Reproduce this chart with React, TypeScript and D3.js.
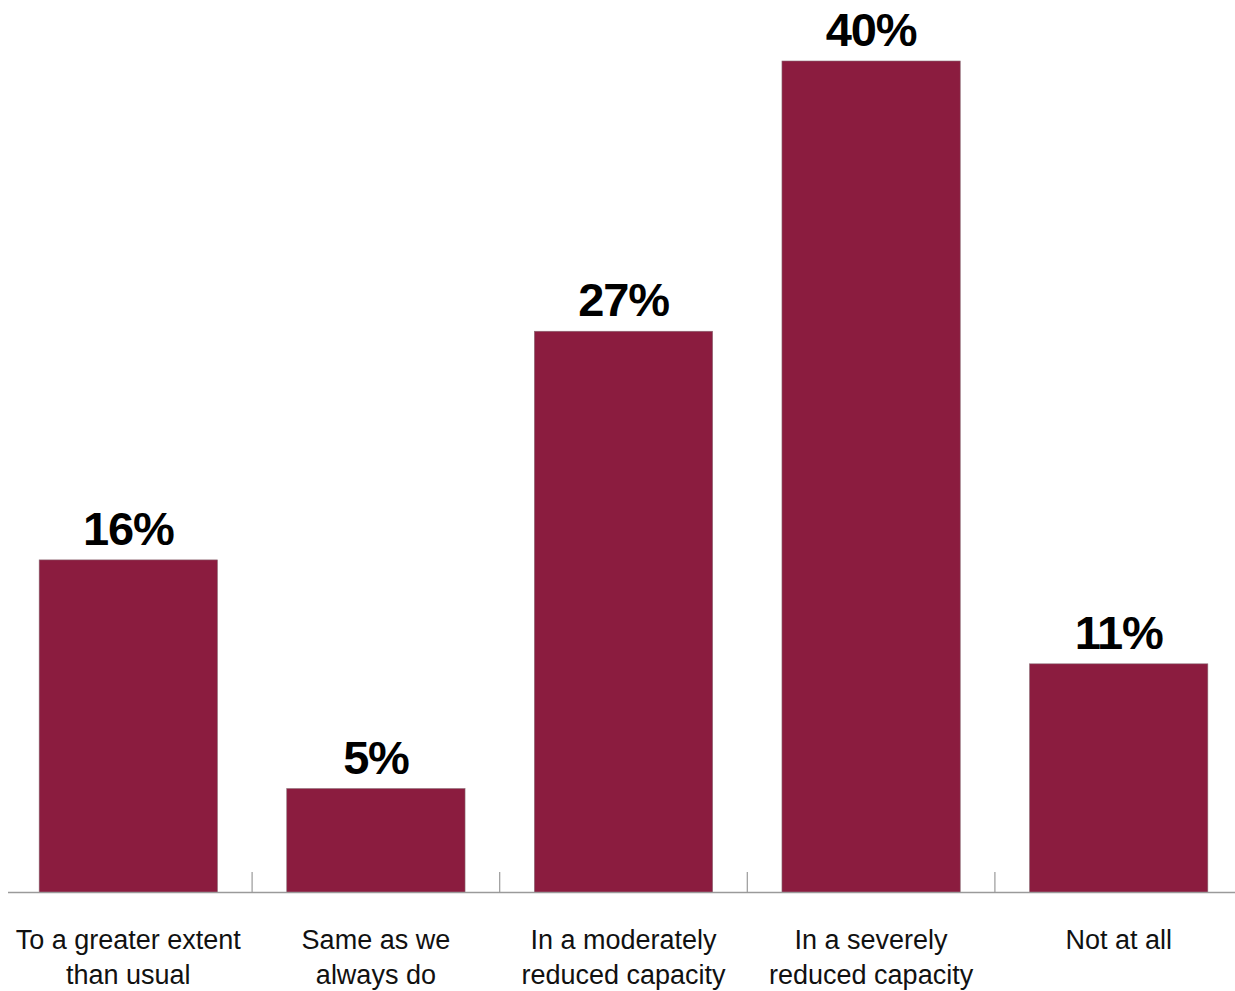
import React from "react";
import * as d3 from "d3";

const categories: string[][] = [
  ["To a greater extent", "than usual"],
  ["Same as we", "always do"],
  ["In a moderately", "reduced capacity"],
  ["In a severely", "reduced capacity"],
  ["Not at all"],
];
const values: number[] = [16, 5, 27, 40, 11];
const valueLabels: string[] = ["16%", "5%", "27%", "40%", "11%"];

const W = 1235;
const H = 991;
const baseY = 892.5;
const barColor = "#8B1C3F";

export default function App() {
  const idx = categories.map((_, i) => String(i));
  const x = d3.scaleBand<string>().domain(idx).range([4.5, 1242.5]).paddingInner(0.28).paddingOuter(0.14);
  const y = d3.scaleLinear().domain([0, 40]).range([baseY, 61]);
  const step = x.step();
  const tickXs = idx.slice(1).map((d) => (x(d) as number) - (step - x.bandwidth()) / 2);

  return (
    <div style={{ position: "absolute", left: 0, top: 0, width: W, height: H, overflow: "hidden" }}>
      <svg width={W} height={H} style={{ display: "block", fontFamily: "'Liberation Sans', Arial, Helvetica, sans-serif" }}>
        <rect width={W} height={H} fill="#fff" />
        {values.map((v, i) => (
          <rect
            key={"b" + i}
            x={x(String(i))}
            y={y(v)}
            width={x.bandwidth()}
            height={baseY - y(v)}
            fill={barColor}
            stroke="#8a6a74"
            strokeWidth={0.6}
          />
        ))}
        <line x1={8} x2={1235} y1={baseY} y2={baseY} stroke="#9a9a9a" strokeWidth={1.5} />
        {tickXs.map((tx, i) => (
          <line key={"t" + i} x1={tx} x2={tx} y1={872} y2={baseY} stroke="#9a9a9a" strokeWidth={1.2} />
        ))}
        {values.map((v, i) => (
          <text
            key={"v" + i}
            x={(x(String(i)) as number) + x.bandwidth() / 2}
            y={y(v) - 15}
            textAnchor="middle"
            fontSize={47}
            fontWeight="bold"
            letterSpacing={-1.2}
            fill="#000"
          >
            {valueLabels[i]}
          </text>
        ))}
        {categories.map((lines, i) => (
          <text
            key={"c" + i}
            x={(x(String(i)) as number) + x.bandwidth() / 2}
            textAnchor="middle"
            fontSize={27}
            fill="#111"
          >
            {lines.map((l, j) => (
              <tspan key={j} x={(x(String(i)) as number) + x.bandwidth() / 2} y={949 + j * 35}>
                {l}
              </tspan>
            ))}
          </text>
        ))}
      </svg>
    </div>
  );
}
